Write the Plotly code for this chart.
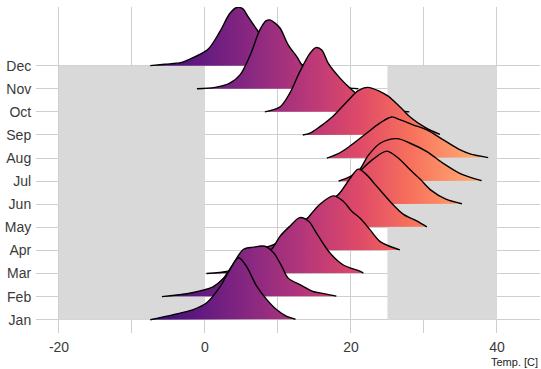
import plotly.graph_objects as go

months = ["Jan", "Feb", "Mar", "Apr", "May", "Jun", "Jul", "Aug", "Sep", "Oct", "Nov", "Dec"]

jan_temp = [-7.5, -4.3, -1.6, 0.2, 2.05, 3.4, 4.6, 5.7, 7.1, 8.5, 9.8, 11.2, 12.4]
jan_dens = [0, .011, .022, .036, .071, .108, .134, .115, .072, .043, .022, .007, .001]

feb_temp = [-5.9, -1.6, 1.1, 2.5, 3.8, 5.25, 6.6, 8.2, 9.4, 10.5, 11.4, 13, 14.8, 15.75, 18]
feb_dens = [0, .009, .021, .039, .069, .102, .107, .109, .095, .066, .040, .026, .011, .008, .001]

mar_temp = [0.2, 3.2, 5, 7, 9.1, 10.3, 11.6, 13, 14.2, 15.3, 17.1, 18.9, 21.2, 21.7]
mar_dens = [0, .005, .015, .028, .052, .081, .102, .121, .113, .087, .045, .019, .005, .001]

apr_temp = [6, 8, 10, 12, 13.9, 15.75, 17.6, 18.9, 20.1, 21.3, 22.6, 24, 25.3, 26.7]
apr_dens = [0, .005, .017, .039, .067, .100, .118, .107, .085, .069, .045, .019, .009, .001]

may_temp = [11.5, 13, 15.5, 17, 18.3, 19.8, 21, 22.2, 23.3, 25.3, 27.2, 29, 30.4]
may_dens = [0, .010, .035, .056, .071, .104, .126, .113, .093, .057, .028, .014, .001]

jun_temp = [17, 19, 21.2, 23, 24.9, 26.7, 28, 29.5, 31, 33, 35.2]
jun_dens = [0, .033, .071, .097, .115, .097, .076, .054, .030, .011, .001]

jul_temp = [18.3, 20, 21.2, 22.3, 24, 26.3, 28.1, 30.4, 32.6, 34.9, 37.9]
jul_dens = [0, .011, .025, .054, .082, .092, .082, .064, .039, .017, .001]

aug_temp = [16.7, 18.2, 19.7, 22, 24, 25.6, 26.7, 28.5, 30.4, 32.6, 34.9, 36.3, 38.8]
aug_dens = [0, .009, .024, .052, .076, .089, .083, .072, .061, .040, .018, .009, .001]

sep_temp = [13.4, 14.4, 15.75, 17.5, 19.45, 21.0, 22.3, 24.0, 25.1, 26.7, 28.1, 30.1, 32.2]
sep_dens = [0, .004, .018, .040, .072, .096, .103, .094, .084, .061, .039, .017, .001]

oct_temp = [8.2, 10.3, 11.6, 13.0, 14.4, 15.2, 16.0, 16.9, 18.5, 19.9, 22, 24, 26, 28]
oct_dens = [0, .011, .040, .087, .127, .139, .134, .105, .073, .051, .024, .010, .003, 0]

nov_temp = [-1.1, 1.4, 3.4, 4.8, 6.2, 7.5, 8.35, 8.9, 9.6, 10.3, 11.4, 12.6, 13.25, 15, 17, 19, 21]
nov_dens = [0, .003, .012, .030, .073, .127, .147, .149, .142, .131, .095, .069, .052, .026, .011, .003, 0]

dec_temp = [-7.5, -5.5, -3.2, -1.4, 0.45, 2.05, 3.4, 4.35, 5.2, 5.9, 7.3, 9, 11, 13, 15]
dec_dens = [0, .003, .007, .019, .036, .074, .113, .126, .123, .106, .074, .039, .013, .003, 0]

temps = [jan_temp, feb_temp, mar_temp, apr_temp, may_temp, jun_temp,
         jul_temp, aug_temp, sep_temp, oct_temp, nov_temp, dec_temp]
dens = [jan_dens, feb_dens, mar_dens, apr_dens, may_dens, jun_dens,
        jul_dens, aug_dens, sep_dens, oct_dens, nov_dens, dec_dens]

x_ticks = [-20, -10, 0, 10, 20, 30, 40]
x_ticktext = ["-20", "", "0", "", "20", "", "40"]

SCALE = 20.0
magma = [[0.0, "#3b0f70"], [0.1538, "#641a80"], [0.3077, "#8c2981"], [0.4615, "#b73779"],
         [0.6154, "#de4968"], [0.7692, "#f7705c"], [0.9231, "#fe9f6d"], [1.0, "#feb77e"]]
gmin = min(min(t) for t in temps)
gmax = max(max(t) for t in temps)

fig = go.Figure()

for i in reversed(range(12)):
    base = i + 1
    ys = [base + d * SCALE for d in dens[i]]
    fig.add_trace(go.Scatter(
        x=temps[i], y=ys, mode="lines", fill="toself",
        fillgradient=dict(type="horizontal", colorscale=magma, start=gmin, stop=gmax),
        line=dict(width=0, shape="spline", smoothing=0.9),
        hoverinfo="skip", showlegend=False))
    fig.add_trace(go.Scatter(
        x=temps[i], y=ys, mode="lines",
        line=dict(color="black", width=1.4, shape="spline", smoothing=0.9),
        hoverinfo="skip", showlegend=False))

for x0, x1 in [(-20, 0), (25, 40)]:
    fig.add_shape(type="rect", x0=x0, x1=x1, y0=1, y1=12, xref="x", yref="y",
                  fillcolor="#d9d9d9", line=dict(width=0), layer="between")

fig.add_annotation(text="Temp. [C]", xref="paper", yref="paper", x=1, y=-0.089,
                   xanchor="right", yanchor="middle", showarrow=False,
                   font=dict(size=11, color="#222222", family="Liberation Sans, Arial, sans-serif"))

fig.update_layout(
    width=541, height=369,
    margin=dict(l=36, r=1, t=7, b=36),
    paper_bgcolor="white", plot_bgcolor="white",
    font=dict(family="Liberation Sans, Arial, sans-serif", size=14, color="#3a3a3a"),
    xaxis=dict(range=[-23.15, 45.9], tickvals=x_ticks, ticktext=x_ticktext,
               showgrid=True, gridcolor="#cfcfcf", gridwidth=1.3, zeroline=False,
               showline=False, ticks="outside", ticklen=1, tickcolor="rgba(0,0,0,0)"),
    yaxis=dict(range=[0.424, 14.54], tickvals=list(range(1, 13)), ticktext=months,
               showgrid=True, gridcolor="#cfcfcf", gridwidth=1.3, zeroline=False,
               showline=False, ticks="outside", ticklen=1, tickcolor="rgba(0,0,0,0)"),
)

fig.write_html("out.html", config={"displayModeBar": False},
               post_script="document.body.style.margin='0px';")
